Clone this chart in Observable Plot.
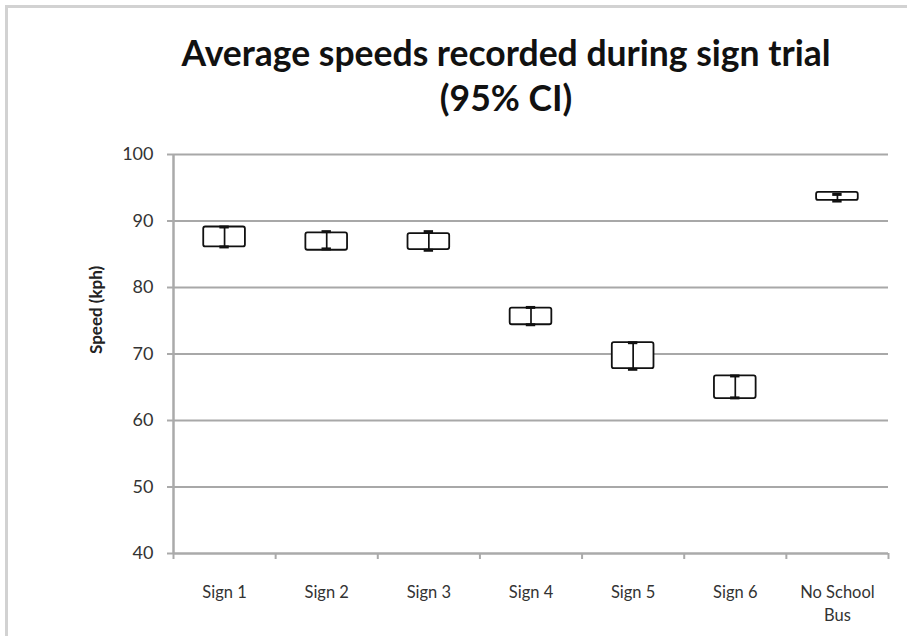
<!DOCTYPE html>
<html><head><meta charset="utf-8">
<script src="https://cdn.jsdelivr.net/npm/d3@7"></script>
<script src="https://cdn.jsdelivr.net/npm/@observablehq/plot@0.6"></script>
<style>
html,body{margin:0;padding:0;background:#fff;}
#wrap{position:relative;width:907px;height:636px;overflow:hidden;background:#fff;font-family:Lato,"Open Sans",sans-serif;}
#frame{position:absolute;left:5px;top:5px;width:1000px;height:1000px;border-left:3px solid #d2d2d2;border-top:3px solid #d2d2d2;}
#title{position:absolute;left:0;top:30px;width:1012px;text-align:center;font-weight:bold;font-size:35.5px;line-height:45px;color:#111;}
#chart{position:absolute;left:0;top:140px;}
</style></head><body>
<div id="wrap"><div id="frame"></div><div id="title">Average speeds recorded during sign trial<br>(95% CI)</div><div id="chart"></div></div>
<script>
const categories = ["Sign 1","Sign 2","Sign 3","Sign 4","Sign 5","Sign 6","No School Bus"];
const boxLow  = [86.1, 85.6, 85.7, 74.4, 67.8, 63.3, 93.1];
const boxHigh = [89.1, 88.2, 88.1, 76.9, 71.7, 66.7, 94.3];
const ciLow   = [86.1, 85.8, 85.6, 74.4, 67.7, 63.4, 93.0];
const ciHigh  = [89.1, 88.4, 88.4, 77.0, 71.7, 66.7, 94.0];
const yTicks  = [40, 50, 60, 70, 80, 90, 100];
const yLabel  = "Speed (kph)";

const rows = categories.map((c, i) => ({c, i, boxLow: boxLow[i], boxHigh: boxHigh[i], ciLow: ciLow[i], ciHigh: ciHigh[i]}));
const mid = d => d.i + 0.5;
const boxHalf = 0.204, capHalf = 0.046;

const chart = Plot.plot({
  width: 907, height: 496,
  marginTop: 14, marginBottom: 83, marginLeft: 173, marginRight: 19,
  style: {fontFamily: "Lato, 'Open Sans', sans-serif", background: "transparent"},
  x: {domain: [0, categories.length], axis: null},
  y: {domain: [40, 100], axis: null},
  marks: [
    Plot.ruleY(yTicks.filter(t => t > 40), {stroke: "#a8a8a8", strokeWidth: 2}),
    Plot.ruleY([40], {stroke: "#aaaaaa", strokeWidth: 2.5}),
    Plot.ruleX([0], {y1: 40, y2: 100, stroke: "#aaaaaa", strokeWidth: 2.5}),
    Plot.axisY({ticks: yTicks, tickSize: 6, tickPadding: 14, stroke: "#aaaaaa", strokeWidth: 2, color: "#333", fontSize: 18}),
    Plot.axisX({ticks: d3.range(categories.length + 1), tickSize: 6, tickFormat: () => "", stroke: "#aaaaaa", strokeWidth: 2}),
    Plot.text(rows, {x: mid, y: 40, text: "c", lineAnchor: "top", dy: 28, lineWidth: 6, lineHeight: 1.4, fontSize: 16.5, fill: "#333"}),
    Plot.text([yLabel], {frameAnchor: "left", dx: -77, rotate: -90, fontWeight: "bold", fontSize: 17, fill: "#222"}),
    Plot.rect(rows, {x1: d => mid(d) - boxHalf, x2: d => mid(d) + boxHalf, y1: "boxLow", y2: "boxHigh", fill: "white", stroke: "#111", strokeWidth: 1.8, rx: 2}),
    Plot.ruleX(rows, {x: mid, y1: "ciLow", y2: "ciHigh", stroke: "#111", strokeWidth: 1.7}),
    Plot.ruleY(rows, {y: "ciLow", x1: d => mid(d) - capHalf, x2: d => mid(d) + capHalf, stroke: "#111", strokeWidth: 3}),
    Plot.ruleY(rows, {y: "ciHigh", x1: d => mid(d) - capHalf, x2: d => mid(d) + capHalf, stroke: "#111", strokeWidth: 3})
  ]
});
document.getElementById("chart").appendChild(chart);
</script>
</body></html>
